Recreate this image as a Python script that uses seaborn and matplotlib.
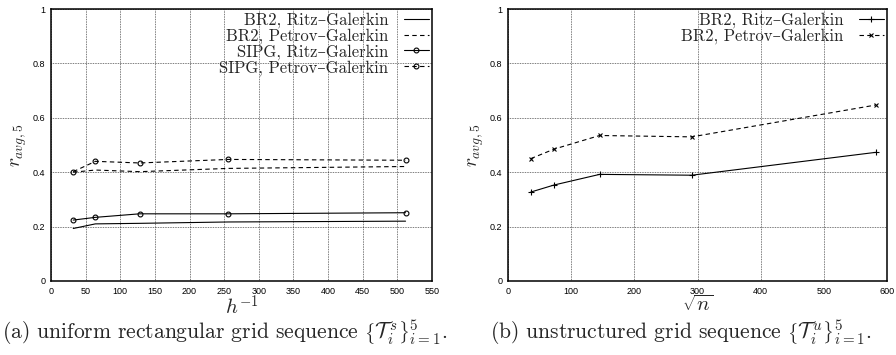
import numpy as np
import pandas as pd
import matplotlib
matplotlib.use("Agg")
import matplotlib.pyplot as plt
import seaborn as sns

# ------------------------------------------------------------
# data
# ------------------------------------------------------------
h_inv = [32, 64, 128, 256, 512]
br2_ritz_a = [0.193, 0.210, 0.212, 0.217, 0.220]
br2_petrov_a = [0.400, 0.408, 0.402, 0.414, 0.421]
sipg_ritz_a = [0.224, 0.234, 0.247, 0.247, 0.251]
sipg_petrov_a = [0.402, 0.440, 0.434, 0.447, 0.444]

sqrt_n = [36, 73, 145, 291, 582]
br2_ritz_b = [0.327, 0.353, 0.392, 0.389, 0.473]
br2_petrov_b = [0.450, 0.485, 0.535, 0.530, 0.647]

y_ticks = [0, 0.2, 0.4, 0.6, 0.8, 1]
y_tick_labels = ["0", "0.2", "0.4", "0.6", "0.8", "1"]
x_ticks_a = list(range(0, 551, 50))
x_ticks_b = list(range(0, 601, 100))

caption_a = r"(a) uniform rectangular grid sequence $\left\{\mathcal{T}_i^{\,s}\right\}_{i=1}^{5}$."
caption_b = r"(b) unstructured grid sequence $\left\{\mathcal{T}_i^{\,u}\right\}_{i=1}^{5}$."

sns.set_style("white")
plt.rcParams["mathtext.fontset"] = "cm"
plt.rcParams["font.family"] = ["Liberation Sans", "DejaVu Sans"]

SERIF = ["cmr10", "DejaVu Serif"]
DASH = (0, (4, 3))
LINE = dict(color="black", lw=0.8, markeredgecolor="black", markeredgewidth=0.8)


def style_axes(ax, xlim, xticks):
    ax.set_xlim(*xlim)
    ax.set_ylim(0, 1)
    ax.set_xticks(xticks)
    ax.set_xticklabels([str(t) for t in xticks])
    ax.set_yticks(y_ticks)
    ax.set_yticklabels(y_tick_labels)
    ax.tick_params(axis="both", labelsize=6.5, length=3, width=0.6,
                   direction="in", pad=4, colors="black")
    ax.grid(True, color="black", linestyle=(0, (1, 1.4)), linewidth=0.5)
    for s in ax.spines.values():
        s.set_color("black")
        s.set_linewidth(1.1)
    ax.set_ylabel(r"$r_{avg,5}$", fontsize=14, labelpad=3)


def add_legend(ax):
    ax.legend(loc="upper right", frameon=False, markerfirst=False,
              prop={"family": SERIF, "size": 12}, labelspacing=0.0,
              handlelength=1.5, handletextpad=0.9, borderaxespad=0.05,
              borderpad=0.15)


fig = plt.figure(figsize=(8.96, 3.55), dpi=100)
ax_a = fig.add_axes([0.057, 0.2085, 0.425, 0.766])
ax_b = fig.add_axes([0.567, 0.2085, 0.423, 0.766])

# ---------------- panel (a) ----------------
sns.lineplot(x=h_inv, y=br2_ritz_a, ax=ax_a, label="BR2, Ritz\u2013Galerkin", **LINE)
sns.lineplot(x=h_inv, y=br2_petrov_a, ax=ax_a, linestyle=DASH,
             label="BR2, Petrov\u2013Galerkin", **LINE)
sns.lineplot(x=h_inv, y=sipg_ritz_a, ax=ax_a, marker="o", markersize=3.5,
             markerfacecolor="none", label="SIPG, Ritz\u2013Galerkin", **LINE)
sns.lineplot(x=h_inv, y=sipg_petrov_a, ax=ax_a, linestyle=DASH, marker="o",
             markersize=3.5, markerfacecolor="none",
             label="SIPG, Petrov\u2013Galerkin", **LINE)
style_axes(ax_a, (0, 550), x_ticks_a)
ax_a.set_xlabel(r"$h^{-1}$", fontsize=15, labelpad=-1)
add_legend(ax_a)

# ---------------- panel (b) ----------------
sns.lineplot(x=sqrt_n, y=br2_ritz_b, ax=ax_b, marker="+", markersize=4.5,
             label="BR2, Ritz\u2013Galerkin", **LINE)
sns.lineplot(x=sqrt_n, y=br2_petrov_b, ax=ax_b, linestyle=DASH, marker="x",
             markersize=3.5, label="BR2, Petrov\u2013Galerkin", **LINE)
style_axes(ax_b, (0, 600), x_ticks_b)
ax_b.set_xlabel(r"$\sqrt{n}$", fontsize=15, labelpad=-1)
add_legend(ax_b)

# ---------------- captions ----------------
fig.text(0.002, 0.045, caption_a, fontsize=15.5, family=SERIF, ha="left", va="baseline")
fig.text(0.547, 0.045, caption_b, fontsize=15.5, family=SERIF, ha="left", va="baseline")

fig.savefig("out.png", dpi=100)
